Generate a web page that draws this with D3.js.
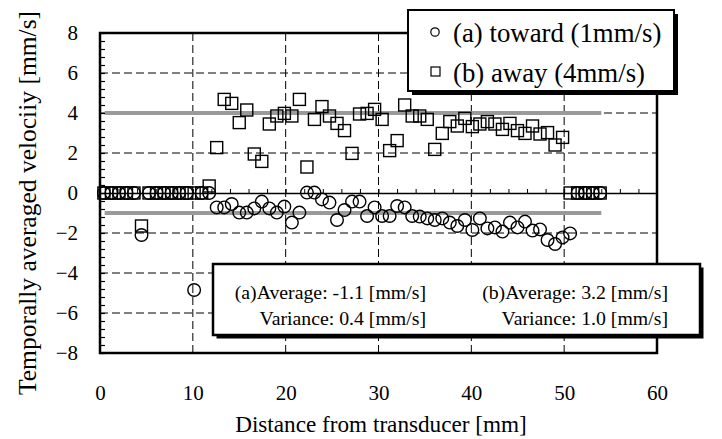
<!DOCTYPE html>
<html>
<head>
<meta charset="utf-8">
<script src="https://cdn.jsdelivr.net/npm/d3@7"></script>
<style>
  html, body { margin: 0; padding: 0; background: #fff; }
  svg { display: block; font-family: "Liberation Serif", "Times New Roman", serif; }
</style>
</head>
<body>
<svg id="chart" width="722" height="439"></svg>
<script>
// Distance from transducer [mm]
const distance = [0.42, 1.23, 2.04, 2.85, 3.66, 4.47, 5.28, 6.09, 6.90, 7.71, 8.52, 9.33, 10.14, 10.95, 11.76,
  12.57, 13.38, 14.19, 15.00, 15.81, 16.62, 17.43, 18.24, 19.05, 19.86, 20.67, 21.48, 22.29, 23.10, 23.91,
  24.72, 25.53, 26.34, 27.15, 27.96, 28.77, 29.58, 30.39, 31.20, 32.01, 32.82, 33.63, 34.44, 35.25, 36.06,
  36.87, 37.68, 38.49, 39.30, 40.11, 40.92, 41.73, 42.54, 43.35, 44.16, 44.97, 45.78, 46.59, 47.40, 48.21,
  49.02, 49.83, 50.64, 51.45, 52.26, 53.07, 53.88];
// (a) toward (1mm/s)
const toward = [0, 0, 0, 0, 0, -2.1, 0, 0, 0, 0, 0, 0, -4.85, 0, 0,
  -0.72, -0.72, -0.55, -0.98, -0.98, -0.77, -0.43, -0.77, -0.98, -0.68, -1.48, -0.98, 0.02, 0.02, -0.32,
  -0.48, -1.35, -0.85, -0.43, -0.43, -1.15, -0.72, -1.15, -1.15, -0.65, -0.72, -1.15, -1.18, -1.27, -1.35,
  -1.27, -1.48, -1.65, -1.35, -1.85, -1.27, -1.77, -1.72, -1.93, -1.48, -1.72, -1.43, -1.88, -1.82, -2.35,
  -2.55, -2.22, -2.02, 0, 0, 0, 0];
// (b) away (4mm/s)
const away = [0, 0, 0, 0, 0, -1.65, 0, 0, 0, 0, 0, 0, 0, 0, 0.35,
  2.27, 4.68, 4.48, 3.52, 4.15, 1.95, 1.58, 3.45, 3.85, 3.98, 3.85, 4.68, 1.3, 3.68, 4.32,
  3.85, 3.48, 3.12, 1.98, 3.95, 3.98, 4.18, 3.68, 2.12, 2.62, 4.4, 3.85, 3.85, 3.68, 2.18,
  2.98, 3.57, 3.35, 3.73, 3.32, 3.45, 3.57, 3.45, 3.18, 3.48, 3.12, 2.98, 3.35, 2.95, 3.02,
  2.4, 2.78, 0, 0, 0, 0, 0];
const seriesNames = ["(a) toward (1mm/s)", "(b) away (4mm/s)"];
const trueSpeeds = [-1, 4];            // reference (set) velocities
const trueSpan = [0.5, 54];            // extent of reference lines [mm]
const xTickValues = [0, 10, 20, 30, 40, 50, 60];
const yTickValues = [-8, -6, -4, -2, 0, 2, 4, 6, 8];
const xGrid = [10, 20, 30, 40, 50];
const yGrid = [-6, -4, -2, 2, 4, 6];
const statsA = ["(a)Average: -1.1 [mm/s]", "Variance: 0.4 [mm/s]"];
const statsB = ["(b)Average: 3.2 [mm/s]", "Variance: 1.0 [mm/s]"];
const xTitle = "Distance from transducer [mm]";
const yTitle = "Temporally averaged velociiy [mm/s]";

const svg = d3.select("#chart");
const L = 100, R = 657, T = 33, B = 353;
const x = d3.scaleLinear().domain([0, 60]).range([L, R]);
const y = d3.scaleLinear().domain([-8, 8]).range([B, T]);

// dashed grid
svg.append("g").selectAll("line").data(xGrid).join("line")
  .attr("x1", d => x(d)).attr("x2", d => x(d)).attr("y1", T).attr("y2", B)
  .attr("stroke", "#000").attr("stroke-width", 1).attr("stroke-dasharray", "8,4");
svg.append("g").selectAll("line").data(yGrid).join("line")
  .attr("x1", L).attr("x2", R).attr("y1", d => y(d)).attr("y2", d => y(d))
  .attr("stroke", "#000").attr("stroke-width", 1).attr("stroke-dasharray", "8,4");

// zero line with ticks
const zeroAxis = svg.append("g").attr("transform", `translate(0,${y(0)})`)
  .call(d3.axisTop(x).tickValues(d3.range(0, 61, 2)).tickSize(4).tickSizeOuter(0).tickFormat(""));
zeroAxis.select(".domain").attr("stroke", "#000").attr("stroke-width", 1.5);
zeroAxis.selectAll(".tick line").attr("stroke-width", 1);

// reference (gray) lines
svg.append("g").selectAll("line").data(trueSpeeds).join("line")
  .attr("x1", x(trueSpan[0])).attr("x2", x(trueSpan[1]))
  .attr("y1", d => y(d)).attr("y2", d => y(d))
  .attr("stroke", "#9a9a9a").attr("stroke-width", 4);

// left minor ticks (inside)
const minor = svg.append("g").attr("transform", `translate(${L},0)`)
  .call(d3.axisRight(y).tickValues(d3.range(-8, 8.01, 0.4)).tickSize(5).tickSizeOuter(0).tickFormat(""));
minor.select(".domain").remove();
minor.selectAll(".tick line").attr("stroke-width", 1.2);

// data points
const pts = distance.map((d, i) => ({ x: d, a: toward[i], b: away[i] }));
svg.append("g").selectAll("circle").data(pts).join("circle")
  .attr("cx", d => x(d.x)).attr("cy", d => y(d.a)).attr("r", 6.3)
  .attr("fill", "none").attr("stroke", "#000").attr("stroke-width", 1.4);
svg.append("g").selectAll("rect").data(pts).join("rect")
  .attr("x", d => x(d.x) - 6).attr("y", d => y(d.b) - 6).attr("width", 12).attr("height", 12)
  .attr("fill", "none").attr("stroke", "#000").attr("stroke-width", 1.4);

// frame
svg.append("rect").attr("x", L).attr("y", T).attr("width", R - L).attr("height", B - T)
  .attr("fill", "none").attr("stroke", "#000").attr("stroke-width", 2.5);

// tick labels
const yAx = svg.append("g").attr("transform", `translate(${L},0)`)
  .call(d3.axisLeft(y).tickValues(yTickValues).tickSize(0).tickPadding(22));
yAx.select(".domain").remove();
yAx.selectAll("text").attr("font-family", "Liberation Serif").attr("font-size", 21).attr("fill", "#000");
const xAx = svg.append("g").attr("transform", `translate(0,${B})`)
  .call(d3.axisBottom(x).tickValues(xTickValues).tickSize(0).tickPadding(32));
xAx.select(".domain").remove();
xAx.selectAll("text").attr("font-family", "Liberation Serif").attr("font-size", 21).attr("fill", "#000");

// axis titles
svg.append("text").attr("x", 381).attr("y", 432).attr("text-anchor", "middle")
  .attr("font-size", 23.2).text(xTitle);
svg.append("text").attr("transform", "translate(36,203) rotate(-90)").attr("text-anchor", "middle")
  .attr("font-size", 25.5).text(yTitle);

// legend box
const lg = { x: 408, y: 10, w: 266, h: 81 };
svg.append("rect").attr("x", lg.x + 4).attr("y", lg.y + 4).attr("width", lg.w).attr("height", lg.h).attr("fill", "#000");
svg.append("rect").attr("x", lg.x).attr("y", lg.y).attr("width", lg.w).attr("height", lg.h)
  .attr("fill", "#fff").attr("stroke", "#000").attr("stroke-width", 2);
svg.append("circle").attr("cx", 435).attr("cy", 32).attr("r", 4.2).attr("fill", "none").attr("stroke", "#000").attr("stroke-width", 1.2);
svg.append("rect").attr("x", 431).attr("y", 67).attr("width", 9).attr("height", 9).attr("fill", "none").attr("stroke", "#000").attr("stroke-width", 1.2);
svg.append("text").attr("x", 453).attr("y", 42).attr("font-size", 26.8).text(seriesNames[0]);
svg.append("text").attr("x", 453).attr("y", 82).attr("font-size", 26.8).text(seriesNames[1]);

// stats box
const sb = { x: 213, y: 264, w: 487, h: 71 };
svg.append("rect").attr("x", sb.x + 3.5).attr("y", sb.y + 3.5).attr("width", sb.w).attr("height", sb.h).attr("fill", "#000");
svg.append("rect").attr("x", sb.x).attr("y", sb.y).attr("width", sb.w).attr("height", sb.h)
  .attr("fill", "#fff").attr("stroke", "#000").attr("stroke-width", 2.5);
statsA.forEach((t, i) => svg.append("text").attr("x", 426).attr("y", 299 + i * 26)
  .attr("text-anchor", "end").attr("font-size", 19.8).text(t));
statsB.forEach((t, i) => svg.append("text").attr("x", 668).attr("y", 299 + i * 26)
  .attr("text-anchor", "end").attr("font-size", 19.8).text(t));
</script>
</body>
</html>
